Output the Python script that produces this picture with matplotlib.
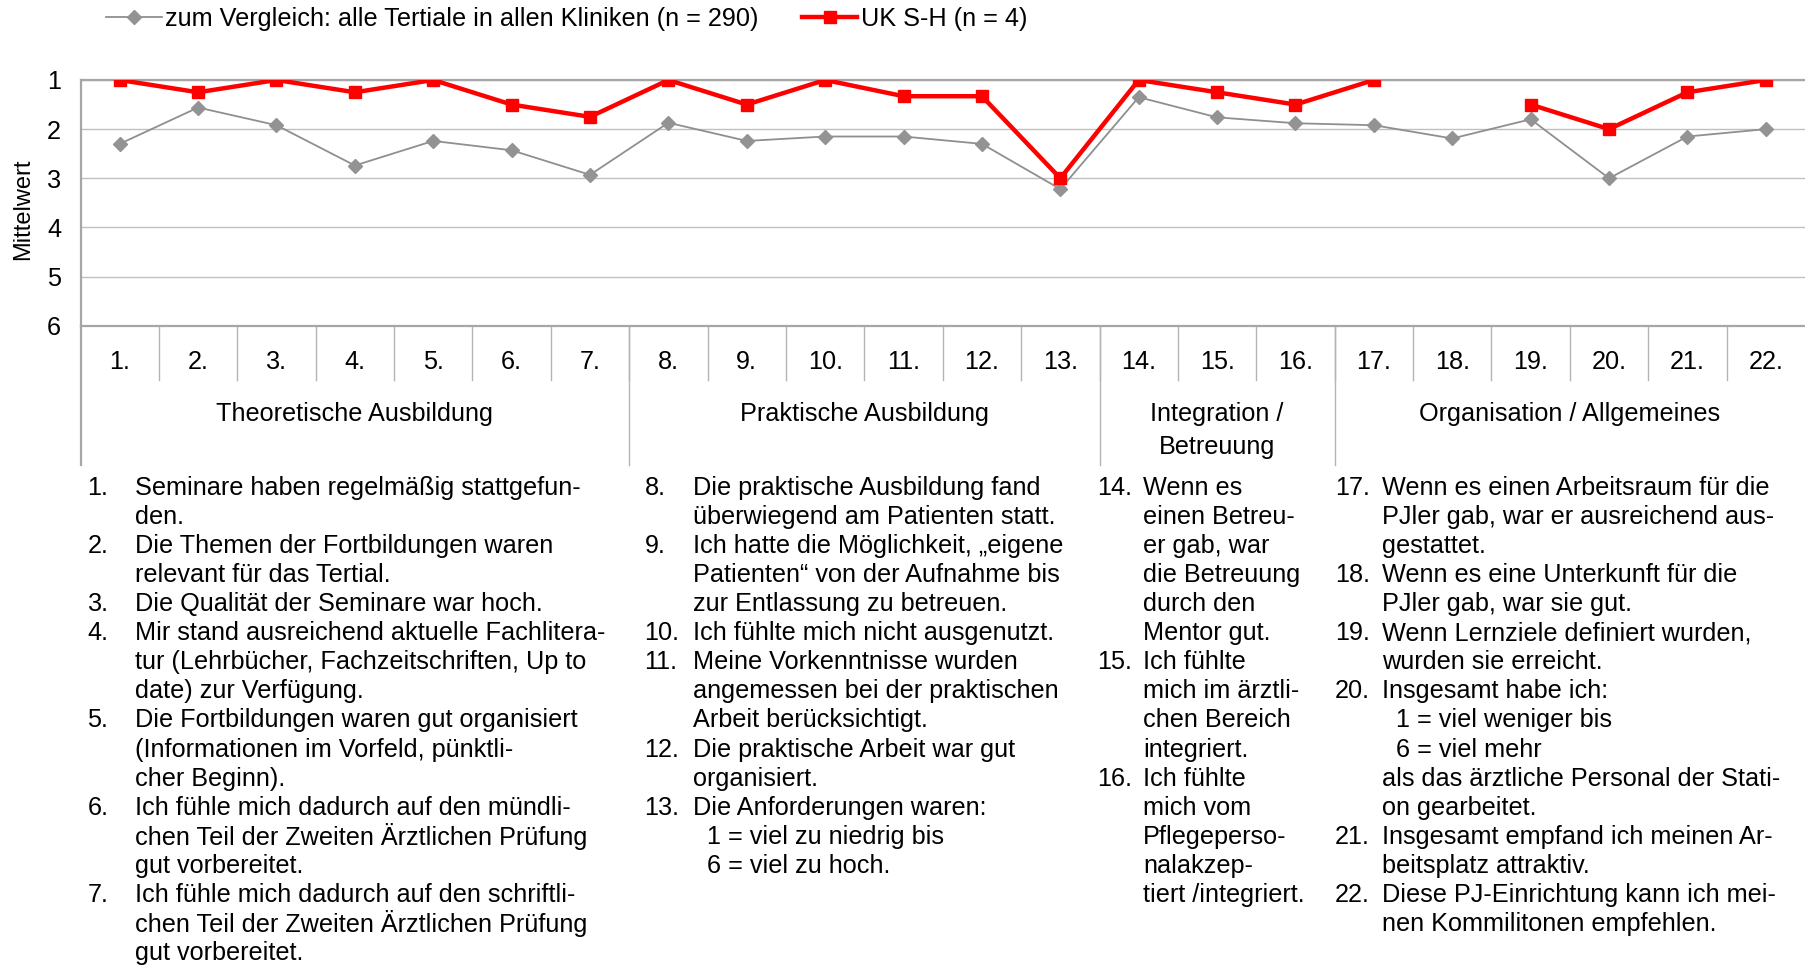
import numpy as np
import matplotlib
matplotlib.use("Agg")
import matplotlib.pyplot as plt

plt.rcParams['font.family'] = ['Liberation Sans', 'DejaVu Sans']

# data
items = [f"{i}." for i in range(1, 23)]
all_clinics = [2.30, 1.56, 1.92, 2.74, 2.24, 2.43, 2.93, 1.87, 2.24, 2.15, 2.15,
               2.30, 3.22, 1.35, 1.76, 1.88, 1.92, 2.19, 1.80, 3.00, 2.15, 2.00]
uksh = [1.0, 1.25, 1.0, 1.25, 1.0, 1.5, 1.75, 1.0, 1.5, 1.0, 1.33,
        1.33, 3.0, 1.0, 1.25, 1.5, 1.0, np.nan, 1.5, 2.0, 1.25, 1.0]
label_all = "zum Vergleich: alle Tertiale in allen Kliniken (n = 290)"
label_uksh = "UK S-H (n = 4)"

groups = ["Theoretische Ausbildung", "Praktische Ausbildung",
          "Integration /\nBetreuung", "Organisation / Allgemeines"]
group_sizes = [7, 6, 3, 6]

# question texts, one column per group, lines as in the original
col1 = [("1.", ["Seminare haben regelmäßig stattgefun-", "den."]),
        ("2.", ["Die Themen der Fortbildungen waren", "relevant für das Tertial."]),
        ("3.", ["Die Qualität der Seminare war hoch."]),
        ("4.", ["Mir stand ausreichend aktuelle Fachlitera-",
                "tur (Lehrbücher, Fachzeitschriften, Up to",
                "date) zur Verfügung."]),
        ("5.", ["Die Fortbildungen waren gut organisiert",
                "(Informationen im Vorfeld, pünktli-", "cher Beginn)."]),
        ("6.", ["Ich fühle mich dadurch auf den mündli-",
                "chen Teil der Zweiten Ärztlichen Prüfung", "gut vorbereitet."]),
        ("7.", ["Ich fühle mich dadurch auf den schriftli-",
                "chen Teil der Zweiten Ärztlichen Prüfung", "gut vorbereitet."])]
col2 = [("8.", ["Die praktische Ausbildung fand", "überwiegend am Patienten statt."]),
        ("9.", ["Ich hatte die Möglichkeit, „eigene",
                "Patienten“ von der Aufnahme bis", "zur Entlassung zu betreuen."]),
        ("10.", ["Ich fühlte mich nicht ausgenutzt."]),
        ("11.", ["Meine Vorkenntnisse wurden", "angemessen bei der praktischen",
                 "Arbeit berücksichtigt."]),
        ("12.", ["Die praktische Arbeit war gut", "organisiert."]),
        ("13.", ["Die Anforderungen waren:", "  1 = viel zu niedrig bis",
                 "  6 = viel zu hoch."])]
col3 = [("14.", ["Wenn es", "einen Betreu-", "er gab, war", "die Betreuung",
                 "durch den", "Mentor gut."]),
        ("15.", ["Ich fühlte", "mich im ärztli-", "chen Bereich", "integriert."]),
        ("16.", ["Ich fühlte", "mich vom", "Pflegeperso-", "nalakzep-",
                 "tiert /integriert."])]
col4 = [("17.", ["Wenn es einen Arbeitsraum für die",
                 "PJler gab, war er ausreichend aus-", "gestattet."]),
        ("18.", ["Wenn es eine Unterkunft für die", "PJler gab, war sie gut."]),
        ("19.", ["Wenn Lernziele definiert wurden,", "wurden sie erreicht."]),
        ("20.", ["Insgesamt habe ich:", "  1 = viel weniger bis", "  6 = viel mehr",
                 "als das ärztliche Personal der Stati-", "on gearbeitet."]),
        ("21.", ["Insgesamt empfand ich meinen Ar-", "beitsplatz attraktiv."]),
        ("22.", ["Diese PJ-Einrichtung kann ich mei-", "nen Kommilitonen empfehlen."])]

W, H = 1805, 965
FS = 18.2
fig = plt.figure(figsize=(W / 100, H / 100), dpi=100)

# plot area in pixels
x0, x1 = 80.5, 1805
ytop, ybot = 80, 325.7
ax = fig.add_axes([x0 / W, 1 - ybot / H, (x1 - x0) / W, (ybot - ytop) / H])

def fy(py):
    # pixel y -> axes fraction
    return (ybot - py) / (ybot - ytop)

x = np.arange(len(items))
ax.plot(x, all_clinics, color="#8f8f8f", lw=1.3, marker="D", ms=7,
        mfc="#939393", mec="#939393", label=label_all, zorder=3)
ax.plot(x, uksh, color="#ff0000", lw=3.2, marker="s", ms=8,
        mfc="#ff0000", mec="#ff0000", label=label_uksh, zorder=4)

ax.set_xlim(-0.5, len(items) - 0.5)
ax.set_ylim(6, 1)
ax.set_yticks([1, 2, 3, 4, 5, 6])
ax.set_xticks([])
ax.tick_params(axis="y", length=0, pad=14, labelsize=FS)
ax.yaxis.grid(True, color="#c0c0c0", lw=1)
ax.set_axisbelow(True)
for s in ["top", "bottom", "left"]:
    ax.spines[s].set_color("#a6a6a6")
    ax.spines[s].set_linewidth(1.6)
ax.spines["right"].set_visible(False)

ax.set_ylabel("Mittelwert", fontsize=17, va="center")
ax.yaxis.set_label_coords((23 - x0) / (x1 - x0), fy(209.5))

# category axis below the plot
trans = ax.get_xaxis_transform()
for i, lab in enumerate(items):
    ax.text(i, fy(362), lab, transform=trans, ha="center", va="center",
            fontsize=FS, clip_on=False)
    if i > 0:
        ax.plot([i - 0.5, i - 0.5], [0, fy(380)], transform=trans,
                color="#b4b4b4", lw=1, clip_on=False)

start = 0
ax.plot([-0.5, -0.5], [0, fy(465)], transform=trans, color="#a6a6a6",
        lw=1.6, clip_on=False)
for g, n in zip(groups, group_sizes):
    mid = start + (n - 1) / 2
    ax.text(mid, fy(402), g, transform=trans, ha="center", va="top",
            fontsize=FS, linespacing=1.45, clip_on=False)
    end = start + n
    if end < len(items):
        ax.plot([end - 0.5, end - 0.5], [0, fy(465)], transform=trans,
                color="#b4b4b4", lw=1, clip_on=False)
    start = end

fig.legend(loc="center left", bbox_to_anchor=(106 / W, 1 - 19 / H), ncol=2,
           frameon=False, fontsize=FS, handlelength=2.2, handletextpad=0.15,
           columnspacing=1.7, borderaxespad=0, borderpad=0)

# numbered question texts
line_h = 29.06
first_y = 488
columns = [(col1, 87.5, 134.7), (col2, 644.6, 693), (col3, 1097, 1143), (col4, 1335, 1382)]
for col, xn, xt in columns:
    k = 0
    for num, lines in col:
        y = first_y + k * line_h
        fig.text(xn / W, 1 - y / H, num, ha="left", va="center", fontsize=FS)
        for ln in lines:
            y = first_y + k * line_h
            fig.text(xt / W, 1 - y / H, ln, ha="left", va="center", fontsize=FS)
            k += 1

fig.savefig("out.png", dpi=100)
